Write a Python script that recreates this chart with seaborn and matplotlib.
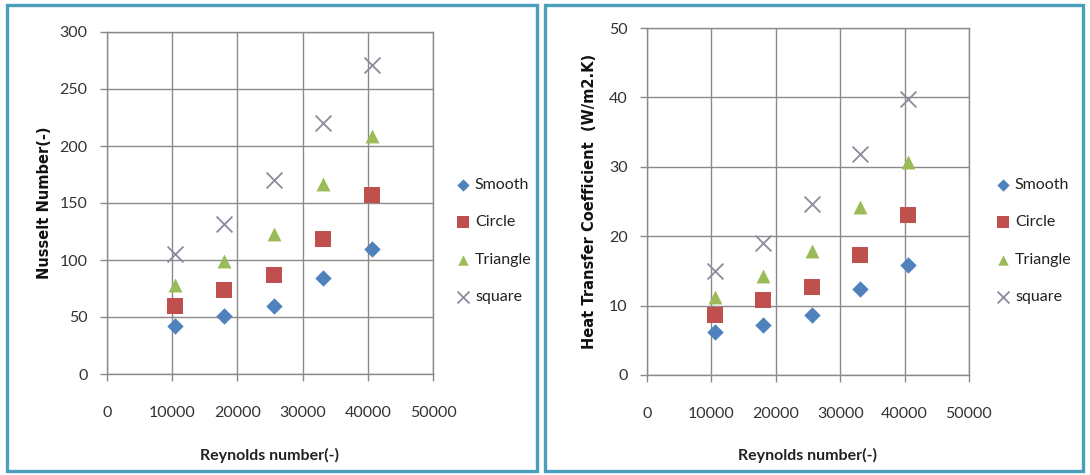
import numpy as np
import pandas as pd
import seaborn as sns
import matplotlib
matplotlib.use("Agg")
import matplotlib.pyplot as plt
from matplotlib.patches import Rectangle

# ---- data ----
reynolds = [10500, 18000, 25600, 33100, 40600]
series_names = ["Smooth", "Circle", "Triangle", "square"]
nu_smooth = [42.5, 50.5, 60, 84, 110]
nu_circle = [60, 74, 86.5, 118, 157]
nu_triangle = [78, 99, 123, 166.5, 209]
nu_square = [105, 132, 170, 220, 271]
h_smooth = [6.2, 7.2, 8.7, 12.4, 15.9]
h_circle = [8.6, 10.8, 12.7, 17.3, 23.1]
h_triangle = [11.3, 14.3, 17.9, 24.2, 30.7]
h_square = [15.0, 19.0, 24.7, 31.8, 39.7]
x_ticks = [0, 10000, 20000, 30000, 40000, 50000]
nu_ticks = [0, 50, 100, 150, 200, 250, 300]
h_ticks = [0, 10, 20, 30, 40, 50]

sns.set_theme(style="white")
plt.rcParams["font.family"] = ["Lato", "DejaVu Sans"]

palette = {"Smooth": "#4F81BD", "Circle": "#C0504D", "Triangle": "#9BBB59", "square": "#8C8A9E"}
markers = {"Smooth": "D", "Circle": "s", "Triangle": "^", "square": "x"}
sizes = {"Smooth": 70, "Circle": 120, "Triangle": 100, "square": 130}


def long_df(vals):
    rows = []
    for name, v in zip(series_names, vals):
        for x, y in zip(reynolds, v):
            rows.append({"Re": x, "val": y, "series": name})
    return pd.DataFrame(rows)


W, H = 1090, 475
fig = plt.figure(figsize=(W / 100, H / 100), dpi=100)
fig.patch.set_facecolor("white")

# panel borders
for (x0, y0, x1, y1) in [(7, 5, 537, 471), (545, 5, 1083, 471)]:
    fig.patches.append(Rectangle((x0 / W, 1 - y1 / H), (x1 - x0) / W, (y1 - y0) / H,
                                 transform=fig.transFigure, fill=False,
                                 edgecolor="#4AA0BA", linewidth=2.4))

panels = [
    dict(rect=(107, 32, 433, 374), vals=[nu_smooth, nu_circle, nu_triangle, nu_square],
         yticks=nu_ticks, ylabel="Nusselt Number(-)", ylab_x=45, leg_x=455),
    dict(rect=(647, 28, 969, 375), vals=[h_smooth, h_circle, h_triangle, h_square],
         yticks=h_ticks, ylabel="Heat Transfer Coefficient  (W/m2.K)", ylab_x=590, leg_x=995),
]

grid_c = "#8A8A8A"
for p in panels:
    l, t, r, b = p["rect"]
    ax = fig.add_axes([l / W, 1 - b / H, (r - l) / W, (b - t) / H])
    df = long_df(p["vals"])
    for name in series_names:
        sub = df[df.series == name]
        kw = dict(linewidth=1.3) if markers[name] == "x" else dict(linewidth=0)
        sns.scatterplot(data=sub, x="Re", y="val", ax=ax, color=palette[name],
                        marker=markers[name], s=sizes[name], label=name, zorder=3, **kw)
    ax.set_xlim(x_ticks[0], x_ticks[-1])
    ax.set_ylim(p["yticks"][0], p["yticks"][-1])
    ax.set_xticks(x_ticks)
    ax.set_yticks(p["yticks"])
    ax.set_xticklabels([str(v) for v in x_ticks])
    ax.set_yticklabels([str(v) for v in p["yticks"]])
    ax.grid(True, color=grid_c, linewidth=1.0)
    ax.set_axisbelow(True)
    for s in ax.spines.values():
        s.set_color(grid_c)
        s.set_linewidth(1.0)
    ax.tick_params(axis="x", length=5, width=1, color=grid_c, direction="out",
                   pad=18, labelsize=11.5, labelcolor="#333333", bottom=True)
    ax.tick_params(axis="y", length=5, width=1, color=grid_c, direction="out",
                   pad=9, labelsize=11.5, labelcolor="#333333", left=True)
    ax.set_xlabel("Reynolds number(-)", fontsize=11.5, fontweight="bold",
                  color="#222222", va="center")
    ax.xaxis.set_label_coords(0.5, -(455 - b) / (b - t))
    ax.set_ylabel(p["ylabel"], fontsize=10.5, fontweight="bold", color="#111111",
                  family="DejaVu Sans", va="center")
    ax.yaxis.set_label_coords((p["ylab_x"] - l) / (r - l), 0.5)

    handles, labels = ax.get_legend_handles_labels()
    ax.legend(handles, labels, loc="center left",
              bbox_to_anchor=(p["leg_x"] / W, 1 - 241 / H),
              bbox_transform=fig.transFigure, frameon=False, fontsize=11.5,
              handlelength=1.0, handletextpad=0.25, labelspacing=1.45,
              borderpad=0, borderaxespad=0, markerscale=0.75, labelcolor="#222222")

fig.savefig("out.png", dpi=100, facecolor="white")
